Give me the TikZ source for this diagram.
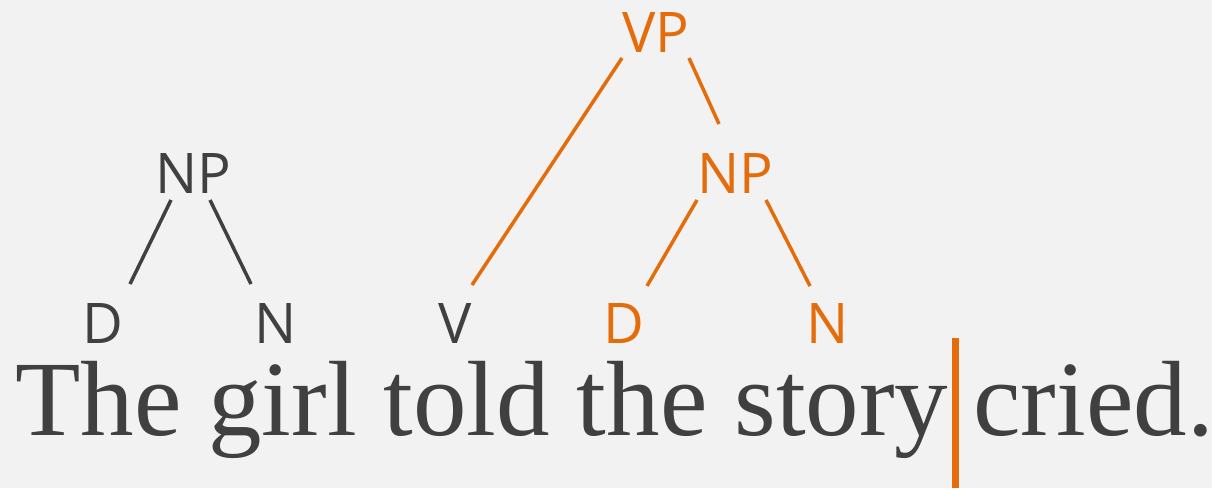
\documentclass[tikz,border=0pt]{standalone}
\usepackage{fontspec}
\setmainfont{Liberation Serif}
\newfontfamily\labelfont{Open Sans}
\usetikzlibrary{calc}
\definecolor{bg}{HTML}{F2F2F2}
\definecolor{ink}{HTML}{404040}
\definecolor{accent}{HTML}{E46C0A}
\begin{document}
\begin{tikzpicture}[x=1pt,y=-1pt,
  lab/.style={inner sep=0pt, anchor=base, font=\labelfont\fontsize{56}{60}\selectfont},
  word/.style={inner sep=0pt, anchor=base west, text=ink, font=\fontsize{107}{110}\selectfont},
  branch/.style={line width=3.5pt},
  grey/.style={text=ink, draw=none},
  hot/.style={text=accent, draw=none}]
\useasboundingbox[fill=bg] (0,0) rectangle (1212,488);
% sentence
\node[word] (sent) at (15,435) {The girl told the story};
\node[word] (cried) at (973,435) {cried.};
\fill[accent] (952,338) rectangle (959,488);
% left NP
\node[lab,grey] (npL) at (193,193) {NP};
\node[lab,grey] (dL) at (103,343) {D};
\node[lab,grey] (nL) at (276,343) {N};
\draw[branch,ink] ($(npL.base)+(-22,7)$) -- ($(dL.base)+(27,-59)$);
\draw[branch,ink] ($(npL.base)+(17,7)$) -- ($(nL.base)+(-25,-59)$);
% VP
\node[lab,hot] (vp) at (656,52) {VP};
\node[lab,grey] (v) at (455,343) {V};
\node[lab,hot] (npR) at (735,193) {NP};
\node[lab,hot] (dR) at (624,343) {D};
\node[lab,hot] (nR) at (828,343) {N};
\draw[branch,accent] ($(vp.base)+(-34,6)$) -- ($(v.base)+(17,-58)$);
\draw[branch,accent] ($(vp.base)+(33,6)$) -- ($(npR.base)+(-16,-69)$);
\draw[branch,accent] ($(npR.base)+(-38,7)$) -- ($(dR.base)+(23,-57)$);
\draw[branch,accent] ($(npR.base)+(31,7)$) -- ($(nR.base)+(-18,-57)$);
\end{tikzpicture}
\end{document}
